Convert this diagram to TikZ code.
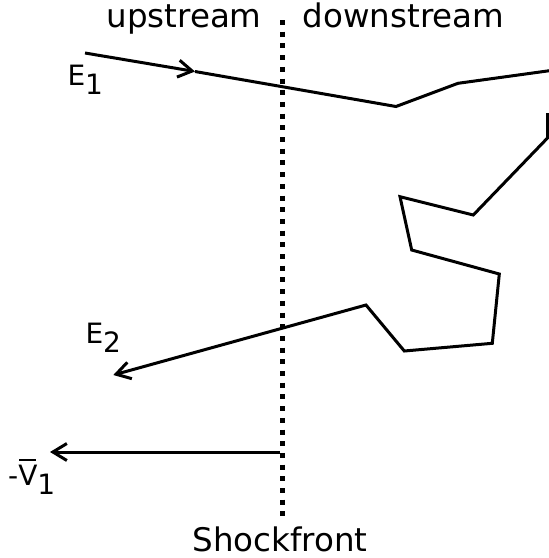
\documentclass[tikz,border=0pt]{standalone}
\usepackage{fontspec}
\setmainfont{DejaVu Sans}
\usetikzlibrary{arrows.meta}
\newcommand{\lowered}[1]{\raisebox{-9pt}{#1}}
\newcommand{\barred}[1]{\ooalign{#1\cr\hfil\rule[24pt]{17pt}{2pt}\hfil\cr}}

\begin{document}
\begin{tikzpicture}[x=1pt, y=-1pt,
  walk/.style={line width=3pt},
  arr/.style={line width=3pt, -{Straight Barb[length=14pt, width=17pt]}},
  front/.style={line width=5pt, dash pattern=on 5pt off 6.7pt},
  lbl/.style={font=\fontsize{32.5}{38}\selectfont, inner sep=0pt},
  sym/.style={font=\fontsize{28}{33}\selectfont, inner sep=0pt, anchor=base west}
]
  \useasboundingbox (0,0) rectangle (549,558);

  % shock front
  \coordinate (ftop) at (282.5,20);
  \coordinate (fbot) at (282.5,518);
  \draw[front] (ftop) -- (fbot);

  \node[lbl, anchor=base] (up) at (184,27) {upstream};
  \node[lbl, anchor=base] (down) at (403.5,27) {downstream};
  \node[lbl, anchor=base] (shock) at (280,551.5) {Shockfront};

  % particle path
  \coordinate (e1start) at (85,53);
  \coordinate (e1mid) at (195,71.5);
  \coordinate (w1) at (396,106.5);
  \coordinate (w2) at (458,83.3);
  \coordinate (w3) at (553,70.2);
  \coordinate (w4) at (547.5,113);
  \coordinate (w5) at (547.5,138);
  \coordinate (w6) at (473.3,215);
  \coordinate (w7) at (400,196.7);
  \coordinate (w8) at (411.7,250);
  \coordinate (w9) at (499.3,274);
  \coordinate (w10) at (492.3,343.3);
  \coordinate (w11) at (404.3,351);
  \coordinate (w12) at (366,305);
  \coordinate (e2end) at (113.3,375);

  \draw[arr] (e1start) -- (e1mid);
  \draw[walk] (e1mid) -- (w1) -- (w2) -- (w3);
  \draw[arr] (w4) -- (w5) -- (w6) -- (w7) -- (w8) -- (w9) -- (w10)
    -- (w11) -- (w12) -- (e2end);

  \node[sym] (e1) at (67.3,85) {E\lowered{1}};
  \node[sym] (e2) at (85.3,343) {E\lowered{2}};

  % flow velocity
  \coordinate (vstart) at (280,452);
  \coordinate (vend) at (50,452);
  \draw[arr] (vstart) -- (vend);
  \node[sym] (v1) at (8,485) {-\barred{V}\lowered{1}};

\end{tikzpicture}
\end{document}
